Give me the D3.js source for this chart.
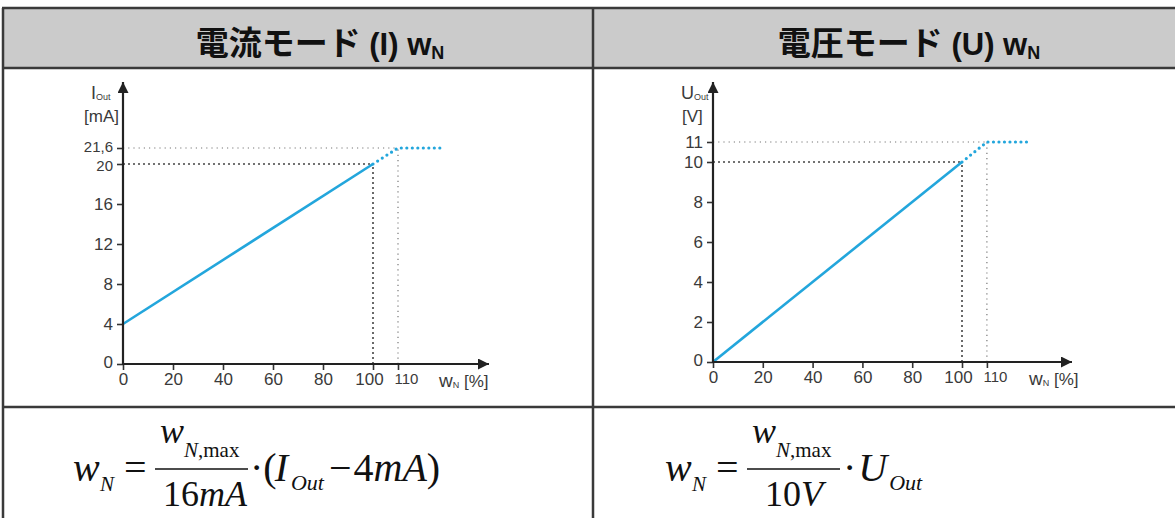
<!DOCTYPE html>
<html>
<head>
<meta charset="utf-8">
<script src="https://cdn.jsdelivr.net/npm/d3@7"></script>
<style>
  body { margin: 0; background: #fff; }
  svg { display: block; }
</style>
</head>
<body>
<svg id="chart" width="1175" height="518"></svg>
<script>
// data
var xTicks = [0, 20, 40, 60, 80, 100, 110];
var currentTicks = [0, 4, 8, 12, 16, 20, 21.6];
var currentTickLabels = ["0", "4", "8", "12", "16", "20", "21,6"];
var currentSolid = [[0, 4], [100, 20]];
var currentLimit = [[100, 20], [110, 21.6], [128, 21.6]];
var voltageTicks = [0, 2, 4, 6, 8, 10, 11];
var voltageTickLabels = ["0", "2", "4", "6", "8", "10", "11"];
var voltageSolid = [[0, 0], [100, 10]];
var voltageLimit = [[100, 10], [110, 11], [128, 11]];
var titles = ["電流モード", "電圧モード"];
var titleSymbols = ["(I)", "(U)"];

var svg = d3.select("#chart"),
    width = +svg.attr("width"),
    height = +svg.attr("height");

var blue = "#23a6dc",
    axisColor = "#333";

svg.append("defs").append("marker")
    .attr("id", "arrow")
    .attr("viewBox", "0 0 10 10")
    .attr("refX", 10).attr("refY", 5)
    .attr("markerWidth", 11).attr("markerHeight", 11)
    .attr("markerUnits", "userSpaceOnUse")
    .attr("orient", "auto")
  .append("path")
    .attr("d", "M0,0 L10,5 L0,10 Z")
    .attr("fill", "#222");

// table
var divX = 593, headTop = 8, headBottom = 68, rowBottom = 407;
svg.append("rect")
    .attr("x", 2).attr("y", headTop)
    .attr("width", width).attr("height", headBottom - headTop)
    .attr("fill", "#cbcbcb");

var grid = svg.append("g").attr("stroke", "#3a3a3a").attr("stroke-width", 2.5);
grid.append("line").attr("x1", 2).attr("x2", width).attr("y1", headTop).attr("y2", headTop);
grid.append("line").attr("x1", 2).attr("x2", width).attr("y1", headBottom).attr("y2", headBottom);
grid.append("line").attr("x1", 2).attr("x2", width).attr("y1", rowBottom).attr("y2", rowBottom);
grid.append("line").attr("x1", 3).attr("x2", 3).attr("y1", headTop).attr("y2", height);
grid.append("line").attr("x1", divX).attr("x2", divX).attr("y1", headTop).attr("y2", height);

// titles
[320, 909].forEach(function(cx, i) {
  var t = svg.append("text")
      .attr("x", cx).attr("y", 55)
      .attr("text-anchor", "middle")
      .attr("font-weight", "bold")
      .attr("fill", "#111");
  t.append("tspan")
      .attr("font-family", "'Noto Sans CJK JP'")
      .attr("font-size", 33)
      .text(titles[i]);
  t.append("tspan")
      .attr("font-family", "'Liberation Sans Narrow', 'Liberation Sans'")
      .attr("font-size", 31)
      .text(" " + titleSymbols[i] + " w");
  t.append("tspan")
      .attr("font-family", "'Liberation Sans'")
      .attr("font-size", 18)
      .attr("dy", 4)
      .text("N");
});

function drawPanel(p) {
  var x = d3.scaleLinear().domain([0, 100]).range([p.x0, p.x100]);
  var y = d3.scaleLinear().domain(p.yDomain).range([p.yBottom, p.yTop]);
  var g = svg.append("g");

  // guide lines
  var dark = { stroke: "#444", dash: "2,3", w: 1.6 };
  var light = { stroke: "#777", dash: "1.2,4", w: 1.2 };
  var guides = [
    { x1: 0, y1: p.limit[0][1], x2: 100, y2: p.limit[0][1], s: dark },
    { x1: 100, y1: p.yDomain[0], x2: 100, y2: p.limit[0][1], s: dark },
    { x1: 0, y1: p.limit[1][1], x2: 110, y2: p.limit[1][1], s: light },
    { x1: 110, y1: p.yDomain[0], x2: 110, y2: p.limit[1][1], s: light }
  ];
  g.selectAll(".guide")
    .data(guides)
    .enter().append("line")
      .attr("x1", function(d) { return x(d.x1); })
      .attr("x2", function(d) { return x(d.x2); })
      .attr("y1", function(d) { return y(d.y1); })
      .attr("y2", function(d) { return y(d.y2); })
      .attr("stroke", function(d) { return d.s.stroke; })
      .attr("stroke-width", function(d) { return d.s.w; })
      .attr("stroke-dasharray", function(d) { return d.s.dash; });

  var line = d3.line()
    .x(function(d) { return x(d[0]); })
    .y(function(d) { return y(d[1]); });

  g.append("path")
    .attr("d", line(p.solid))
    .attr("fill", "none")
    .attr("stroke", blue)
    .attr("stroke-width", 2.6);

  g.append("path")
    .attr("d", line(p.limit))
    .attr("fill", "none")
    .attr("stroke", blue)
    .attr("stroke-width", 3.2)
    .attr("stroke-linecap", "round")
    .attr("stroke-dasharray", "0,5.5");

  // axes
  var yAxis = d3.axisLeft(y)
    .tickValues(p.yTicks)
    .tickSize(6)
    .tickPadding(4)
    .tickFormat(function(d, i) { return p.yLabels[i]; });
  var xAxis = d3.axisBottom(x)
    .tickValues(xTicks)
    .tickSize(6)
    .tickPadding(3);

  var ya = g.append("g")
    .attr("transform", "translate(" + p.x0 + ",0)")
    .call(yAxis);
  var xa = g.append("g")
    .attr("transform", "translate(0," + p.yBottom + ")")
    .call(xAxis);

  [ya, xa].forEach(function(a) {
    a.select(".domain").remove();
    a.selectAll("line").attr("stroke", axisColor).attr("stroke-width", 1.6);
    a.selectAll("text")
      .attr("font-family", "'Liberation Sans', Arial, sans-serif")
      .attr("font-size", 17)
      .attr("fill", "#3a3a3a");
  });
  xa.selectAll(".tick text")
    .attr("dx", function(d) { return d === 100 ? -4 : d === 110 ? 8 : 0; })
    .attr("font-size", function(d) { return d === 110 ? 15 : 17; });
  // the two top labels sit close together, keep them apart
  var top2 = p.yTicks.slice(-2);
  ya.selectAll(".tick text")
    .attr("font-size", function(d) { return p.tight && top2.indexOf(d) >= 0 ? 15 : 17; })
    .attr("dy", function(d) {
      if (d === 0) return "0.2em";
      if (p.tight && d === top2[1]) return "0.22em";
      if (p.tight && d === top2[0]) return "0.42em";
      return "0.32em";
    });

  g.append("line")
    .attr("x1", p.x0).attr("y1", p.yBottom + 1)
    .attr("x2", p.x0).attr("y2", 82)
    .attr("stroke", "#222").attr("stroke-width", 2.2)
    .attr("marker-end", "url(#arrow)");
  g.append("line")
    .attr("x1", p.x0 - 1).attr("y1", p.yBottom)
    .attr("x2", p.xEnd).attr("y2", p.yBottom)
    .attr("stroke", "#222").attr("stroke-width", 2.2)
    .attr("marker-end", "url(#arrow)");

  // axis titles
  var lab = g.append("g")
    .attr("font-family", "'Liberation Sans', Arial, sans-serif")
    .attr("fill", "#3a3a3a");
  var yl = lab.append("text").attr("x", p.x0 - 32).attr("y", 99).attr("font-size", 18);
  yl.append("tspan").text(p.ySym);
  yl.append("tspan").attr("font-size", 9).attr("dy", 1).text("Out");
  lab.append("text").attr("x", p.x0 - p.unitOff).attr("y", 122).attr("font-size", 17).text(p.yUnit);
  var xl = lab.append("text").attr("x", p.x0 + 316).attr("y", p.yBottom + 23).attr("font-size", 17);
  xl.append("tspan").attr("font-size", 19).text("w");
  xl.append("tspan").attr("font-size", 9).attr("dy", 1).text("N");
  xl.append("tspan").attr("dy", -1).text(" [%]");
}

drawPanel({
  x0: 123, x100: 373, xEnd: 489,
  yDomain: [0, 20], yBottom: 364, yTop: 164,
  yTicks: currentTicks, yLabels: currentTickLabels,
  solid: currentSolid, limit: currentLimit,
  ySym: "I", yUnit: "[mA]", unitOff: 39, tight: true
});
drawPanel({
  x0: 713, x100: 962, xEnd: 1072,
  yDomain: [0, 10], yBottom: 362, yTop: 162,
  yTicks: voltageTicks, yLabels: voltageTickLabels,
  solid: voltageSolid, limit: voltageLimit,
  ySym: "U", yUnit: "[V]", unitOff: 31, tight: false
});

// formulas
function formulaStart(f, ox) {
  f.append("text").attr("x", ox + 73).attr("y", 481)
    .attr("font-style", "italic").attr("font-size", 40).text("w");
  f.append("text").attr("x", ox + 100).attr("y", 491)
    .attr("font-style", "italic").attr("font-size", 21).text("N");
  f.append("text").attr("x", ox + 124).attr("y", 481)
    .attr("font-size", 40).text("=");
  f.append("line")
    .attr("x1", ox + 155).attr("x2", ox + 248)
    .attr("y1", 469).attr("y2", 469)
    .attr("stroke", "#111").attr("stroke-width", 1.6);
  var num = f.append("text").attr("x", ox + 160).attr("y", 443);
  num.append("tspan").attr("font-style", "italic").attr("font-size", 36).text("w");
  num.append("tspan").attr("font-style", "italic").attr("font-size", 21).attr("dy", 14).text("N");
  num.append("tspan").attr("font-size", 21).text(",max");
}

var f1 = svg.append("g").attr("font-family", "'Liberation Serif', 'Times New Roman', serif").attr("fill", "#111");
formulaStart(f1, 0);
var den1 = f1.append("text").attr("x", 163).attr("y", 506).attr("font-size", 36);
den1.append("tspan").text("16");
den1.append("tspan").attr("font-style", "italic").text("mA");
var r1 = f1.append("text").attr("x", 250).attr("y", 481).attr("font-size", 40);
r1.append("tspan").text("·(");
r1.append("tspan").attr("font-style", "italic").attr("dx", -2).text("I");
r1.append("tspan").attr("font-style", "italic").attr("font-size", 22).attr("dy", 9).attr("dx", 3).text("Out");
r1.append("tspan").attr("dy", -9).attr("dx", 5).text("−");
r1.append("tspan").attr("dx", 2).text("4");
r1.append("tspan").attr("font-style", "italic").text("mA");
r1.append("tspan").text(")");

var f2 = svg.append("g").attr("font-family", "'Liberation Serif', 'Times New Roman', serif").attr("fill", "#111");
formulaStart(f2, 592);
var den2 = f2.append("text").attr("x", 765).attr("y", 506).attr("font-size", 36);
den2.append("tspan").text("10");
den2.append("tspan").attr("font-style", "italic").text("V");
var r2 = f2.append("text").attr("x", 843).attr("y", 481).attr("font-size", 40);
r2.append("tspan").text("·");
r2.append("tspan").attr("font-style", "italic").attr("dx", 2).text("U");
r2.append("tspan").attr("font-style", "italic").attr("font-size", 22).attr("dy", 9).attr("dx", 2).text("Out");
</script>
</body>
</html>
